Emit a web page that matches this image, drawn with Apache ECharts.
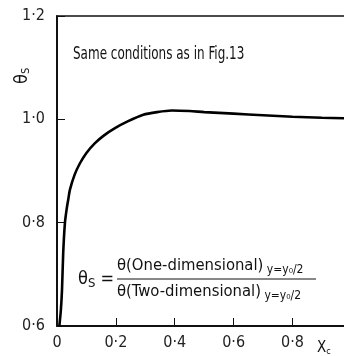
<!DOCTYPE html>
<html><head><meta charset="utf-8">
<script src="https://cdn.jsdelivr.net/npm/echarts@6/dist/echarts.min.js"></script>
<style>html,body{margin:0;padding:0;background:#fff}#c{width:344px;height:356px}</style>
</head><body><div id="c"></div>
<script>
const xValues = [0.008, 0.013, 0.017, 0.021, 0.027, 0.033, 0.038, 0.044, 0.06, 0.078, 0.1, 0.129, 0.16, 0.197, 0.24, 0.293, 0.34, 0.39, 0.45, 0.5, 0.6, 0.7, 0.8, 0.9, 0.975];
const thetaS = [0.6, 0.63, 0.67, 0.74, 0.8, 0.827, 0.844, 0.864, 0.893, 0.915, 0.935, 0.954, 0.969, 0.983, 0.996, 1.009, 1.014, 1.017, 1.016, 1.014, 1.011, 1.008, 1.005, 1.003, 1.002];
const xTicks = [0, 0.2, 0.4, 0.6, 0.8];
const yTicks = [0.6, 0.8, 1.0, 1.2];
const xMax = 0.975;
const note = 'Same conditions as in Fig.13';

const FONT = '"Liberation Sans Narrow", "DejaVu Sans Condensed", "Liberation Sans", sans-serif';
const fmt = v => (Math.abs(v) < 1e-9 ? '0' : v.toFixed(1).replace('.', '·'));

const chart = echarts.init(document.getElementById('c'), null, {renderer: 'canvas'});
chart.setOption({
  animation: false,
  backgroundColor: '#fff',
  grid: {left: 57, top: 16, right: 0, height: 310, show: false},
  xAxis: [{
    type: 'value', min: 0, max: xMax, interval: 0.2,
    axisLine: {show: true, onZero: false, lineStyle: {color: '#111', width: 2}},
    axisTick: {show: true, inside: true, length: 8, lineStyle: {color: '#111', width: 1}},
    axisLabel: {show: true, color: '#222', fontFamily: FONT, fontSize: 16, margin: 9, showMaxLabel: false,
      formatter: v => xTicks.some(t => Math.abs(t - v) < 1e-9) ? fmt(v) : ''},
    splitLine: {show: false}
  }, {
    type: 'value', position: 'top', min: 0, max: xMax, interval: 0.2,
    axisLine: {show: true, onZero: false, lineStyle: {color: '#111', width: 1.5}},
    axisTick: {show: false}, axisLabel: {show: false}, splitLine: {show: false}
  }],
  yAxis: {
    type: 'value', min: 0.6, max: 1.2, interval: 0.2,
    axisLine: {show: true, onZero: false, lineStyle: {color: '#111', width: 2}},
    axisTick: {show: true, inside: true, length: 8, lineStyle: {color: '#111', width: 1}},
    axisLabel: {show: true, color: '#222', fontFamily: FONT, fontSize: 16, margin: 12,
      formatter: v => yTicks.some(t => Math.abs(t - v) < 1e-9) ? fmt(v) : ''},
    splitLine: {show: false}
  },
  series: [{
    type: 'line', xAxisIndex: 0, data: xValues.map((x, i) => [x, thetaS[i]]),
    showSymbol: false, smooth: 0.25, clip: true,
    lineStyle: {color: '#000', width: 2.6}
  }],
  graphic: [
    {type: 'text', x: 73, y: 45, scaleX: 0.74, style: {text: note, fontFamily: FONT, fontSize: 18, fill: '#111'}},
    {type: 'text', x: 13, y: 84, rotation: Math.PI / 2,
      style: {text: '{a|θ}{b|S}', fill: '#111', rich: {a: {fontFamily: FONT, fontSize: 18}, b: {fontFamily: FONT, fontSize: 11, padding: [8, 0, 0, 0]}}}},
    {type: 'text', x: 78, y: 268,
      style: {text: '{a|θ}{b|S}{a| =}', fill: '#111', rich: {a: {fontFamily: FONT, fontSize: 18}, b: {fontFamily: FONT, fontSize: 13, padding: [9, 0, 0, 0]}}}},
    {type: 'text', x: 117, y: 256,
      style: {text: '{a|θ(One-dimensional)}{b| y=y₀/2}', fill: '#111', rich: {a: {fontFamily: FONT, fontSize: 16.5}, b: {fontFamily: FONT, fontSize: 12, padding: [8, 0, 0, 0]}}}},
    {type: 'line', shape: {x1: 117, y1: 279, x2: 316, y2: 279}, style: {stroke: '#111', lineWidth: 1}},
    {type: 'text', x: 117, y: 282,
      style: {text: '{a|θ(Two-dimensional)}{b| y=y₀/2}', fill: '#111', rich: {a: {fontFamily: FONT, fontSize: 16.5}, b: {fontFamily: FONT, fontSize: 12, padding: [8, 0, 0, 0]}}}},
    {type: 'text', x: 317, y: 341,
      style: {text: '{a|X}{b|c}', fill: '#111', rich: {a: {fontFamily: FONT, fontSize: 15}, b: {fontFamily: FONT, fontSize: 9, padding: [6, 0, 0, 0]}}}}
  ]
});
</script></body></html>
